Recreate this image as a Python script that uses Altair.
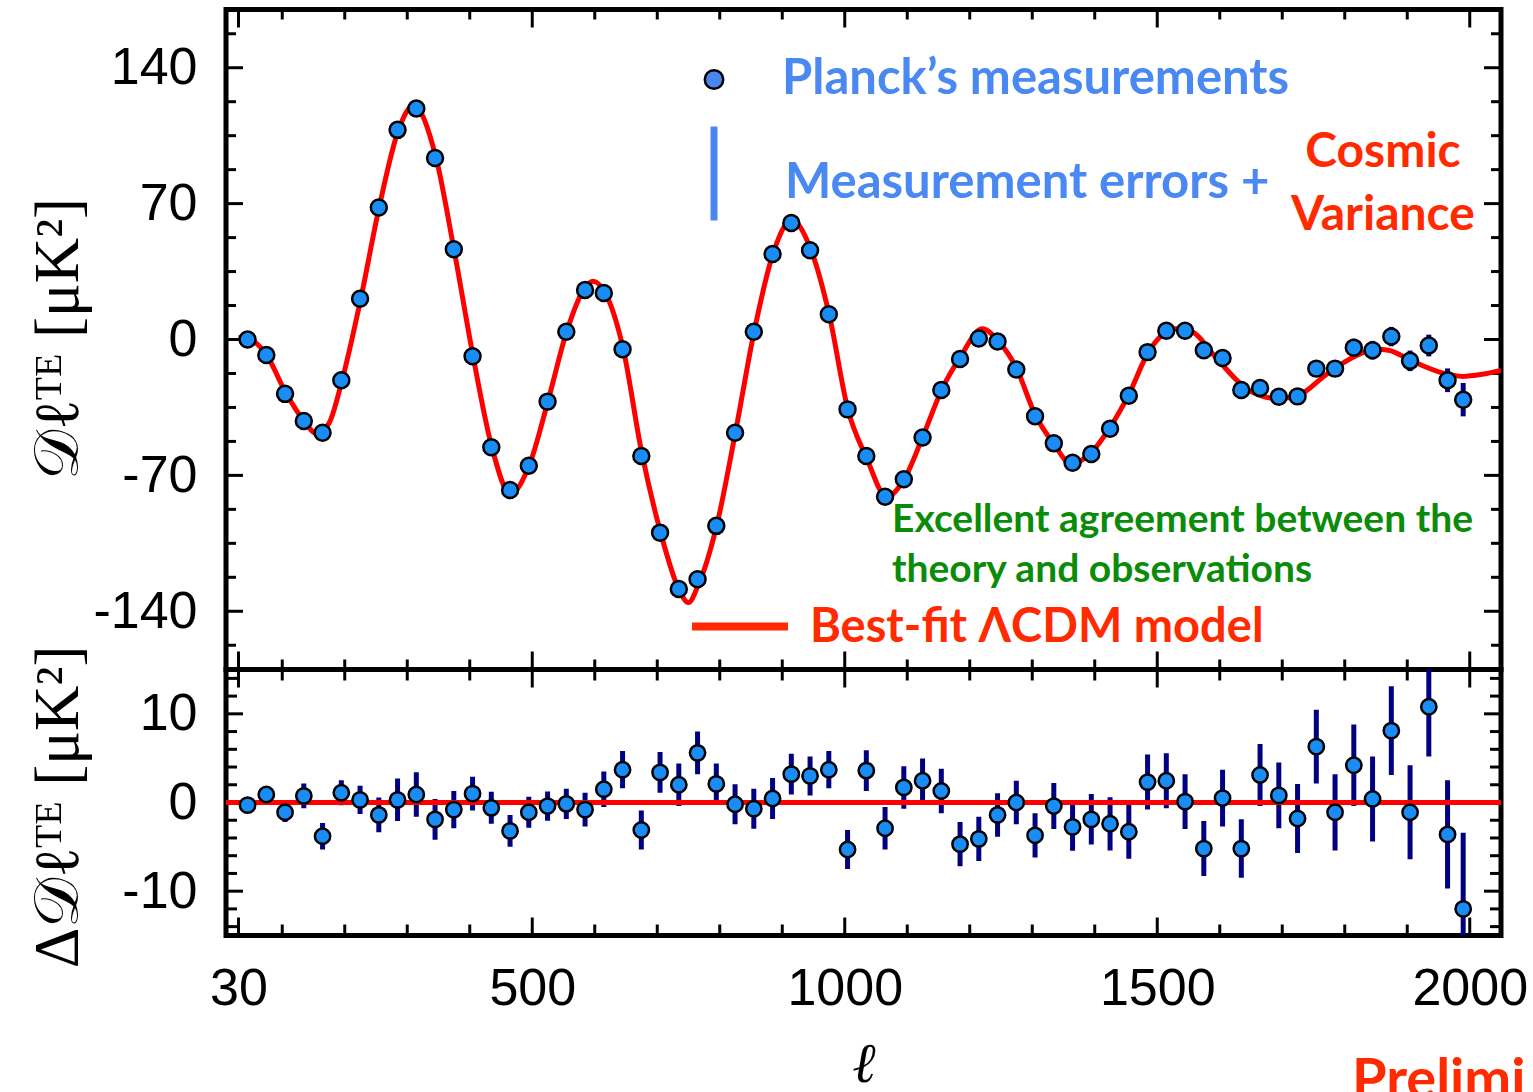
import altair as alt
import pandas as pd

# ---------------- data ----------------
ell = [44.5, 74.5, 104.5, 134.5, 164.5, 194.5, 224.5, 254.5, 284.5, 314.5,
       344.5, 374.5, 404.5, 434.5, 464.5, 494.5, 524.5, 554.5, 584.5, 614.5,
       644.5, 674.5, 704.5, 734.5, 764.5, 794.5, 824.5, 854.5, 884.5, 914.5,
       944.5, 974.5, 1004.5, 1034.5, 1064.5, 1094.5, 1124.5, 1154.5, 1184.5, 1214.5,
       1244.5, 1274.5, 1304.5, 1334.5, 1364.5, 1394.5, 1424.5, 1454.5, 1484.5, 1514.5,
       1544.5, 1574.5, 1604.5, 1634.5, 1664.5, 1694.5, 1724.5, 1754.5, 1784.5, 1814.5,
       1844.5, 1874.5, 1904.5, 1934.5, 1964.5, 1989.5]

dte = [0, -8, -28, -42, -48, -21, 21, 68, 108, 119,
       93.5, 46.5, -8.6, -55.5, -77.5, -65, -32, 4, 25.5, 24,
       -5, -60, -99.5, -128.5, -123.5, -96, -48, 4, 44, 60,
       46, 13, -36, -60, -81, -72, -50.5, -26, -10, 0.5,
       -1, -15.5, -39.5, -53.5, -63.5, -59, -46, -29, -6.5, 4.5,
       4.5, -5.5, -9.5, -26, -25, -29.5, -29.3, -15, -15, -4.2,
       -5.5, 1.5, -11, -3.1, -21, -31]

resid = [-0.3, 0.9, -1.1, 0.75, -3.8, 1.1, 0.3, -1.4, 0.3, 0.9,
         -1.9, -0.8, 1.0, -0.6, -3.2, -1.1, -0.4, -0.15, -0.8, 1.5,
         3.7, -3.1, 3.4, 2.0, 5.6, 2.1, -0.2, -0.7, 0.45, 3.2,
         3.0, 3.7, -5.3, 3.6, -2.9, 1.7, 2.45, 1.3, -4.7, -4.1,
         -1.4, 0.0, -3.7, -0.4, -2.75, -1.9, -2.4, -3.3, 2.3, 2.45,
         0.1, -5.2, 0.5, -5.2, 3.1, 0.8, -1.8, 6.3, -1.1, 4.2,
         0.4, 8.1, -1.1, 10.8, -3.6, -12.0]

err = [0.8, 0.9, 1.1, 1.4, 1.5, 1.4, 1.6, 1.95, 2.4, 2.5,
       2.3, 2.1, 1.9, 1.8, 1.8, 1.75, 1.65, 1.7, 1.9, 2.0,
       2.1, 2.2, 2.3, 2.4, 2.4, 2.3, 2.25, 2.25, 2.3, 2.3,
       2.2, 2.1, 2.2, 2.3, 2.4, 2.4, 2.5, 2.5, 2.5, 2.5,
       2.45, 2.45, 2.5, 2.6, 2.7, 2.85, 3.0, 3.05, 3.1, 3.1,
       3.1, 3.1, 3.2, 3.3, 3.5, 3.7, 3.9, 4.15, 4.3, 4.6,
       4.8, 5.0, 5.3, 5.6, 6.1, 8.6]

# best-fit model curve, read at its turning points and in between
model_ell = [30, 45, 75, 105, 135, 155, 175, 195, 225, 255, 285, 310, 345, 375, 405,
             435, 465, 495, 525, 555, 585, 597, 615, 645, 675, 705, 735, 750, 765, 795,
             825, 855, 885, 915, 945, 975, 1005, 1035, 1067, 1095, 1125, 1155, 1185, 1220,
             1245, 1275, 1305, 1335, 1362, 1395, 1425, 1455, 1485, 1530, 1556, 1593, 1646,
             1694, 1726, 1769, 1814, 1850, 1870, 1905, 1961, 1988, 2020, 2050]
model_val = [1, 0.5, -8, -27, -42, -48.5, -43, -22, 20, 68, 107, 120.5, 95, 46, -8,
             -55, -79.5, -65, -32, 4, 27, 30, 25, -4, -58, -99, -129, -135.5, -127, -96,
             -48, 4, 44, 61.5, 47, 13, -36, -61, -81, -72, -50, -26, -9, 5.5,
             -0.5, -15, -39, -54, -64, -58, -45, -28, -7, 5.5, 3.9, -9, -26,
             -30.5, -28.8, -18.4, -9, -5, -5.5, -10.7, -17.6, -19, -17.9, -15.9]

x_labels = [30, 500, 1000, 1500, 2000]
x_minor = [100, 200, 300, 400, 600, 700, 800, 900, 1100, 1200, 1300, 1400,
           1600, 1700, 1800, 1900]
top_y_labels = [-140, -70, 0, 70, 140]
top_y_minor = [-157.5, -122.5, -105, -87.5, -52.5, -35, -17.5, 17.5, 35, 52.5,
               87.5, 105, 122.5, 157.5]
bot_y_labels = [-10, 0, 10]
bot_y_minor = [-14, -12, -8, -6, -4, -2, 2, 4, 6, 8, 12, 14]

# ---------------- tables ----------------
pts = pd.DataFrame({"ell": ell, "dte": dte, "resid": resid, "err": err})
pts["lo"] = pts["dte"] - pts["err"]
pts["hi"] = pts["dte"] + pts["err"]
pts["rlo"] = pts["resid"] - pts["err"]
pts["rhi"] = pts["resid"] + pts["err"]
model = pd.DataFrame({"ell": model_ell, "dte": model_val})

# ---------------- style ----------------
W, H1, H2 = 1275, 660, 266
PT_FILL = "#1A8CF5"
ERR_COL = "#000080"
CURVE = "#FF0000"
BLUE_TXT = "#4A88F2"
RED_TXT = "#FF2A00"
GREEN_TXT = "#0A8C0A"
TXT_FONT = "Lato"
NUM_FONT = "Liberation Sans"
TEX_FONT = "Liberation Serif"

xscale = alt.Scale(domain=[10, 2050], nice=False, zero=False)
ytop = alt.Scale(domain=[-170, 170], nice=False, zero=False)
ybot = alt.Scale(domain=[-15, 15], nice=False, zero=False)

xaxis_bottom = alt.Axis(values=x_labels, labelExpr="'' + datum.value",
                        labelFont=NUM_FONT, labelFontSize=52, labelColor="black",
                        labelBaseline="alphabetic", labelPadding=69,
                        labelFlush=False, labelOverlap=False, labelBound=False,
                        ticks=False, tickSize=0, domain=False, grid=False,
                        title="ℓ", titleFont=TEX_FONT, titleFontStyle="italic",
                        titleFontWeight="normal", titleFontSize=56, titleColor="black",
                        titleY=146, titleBaseline="alphabetic")


def yaxis(values, title, ty):
    return alt.Axis(values=values, labelExpr="'' + datum.value",
                    labelFont=NUM_FONT, labelFontSize=52, labelColor="black",
                    labelPadding=29, labelOverlap=False, labelFlush=False,
                    ticks=False, tickSize=0, domain=False, grid=False,
                    title=title, titleFont=TEX_FONT, titleFontWeight="normal",
                    titleFontSize=63, titleColor="black", titleAngle=270,
                    titleX=-168, titleY=ty, titleAlign="center", titleBaseline="middle")


TT = "𝒟ℓᵀᴱ  [μK²]"
BT = "Δ𝒟ℓᵀᴱ  [μK²]"
top_yaxis = yaxis(top_y_labels, TT, 329)
bot_yaxis = yaxis(bot_y_labels, BT, 137)


def X(field="ell", axis=None):
    return alt.X(f"{field}:Q", scale=xscale, axis=axis, title="ℓ")


def x_ticks(values, length, height, axis):
    d = pd.DataFrame({"ell": values})
    top = alt.Chart(d).mark_rule(color="black", strokeWidth=3).encode(
        x=X(axis=axis), y=alt.value(0), y2=alt.value(length))
    bot = alt.Chart(d).mark_rule(color="black", strokeWidth=3).encode(
        x=X(axis=axis), y=alt.value(height), y2=alt.value(height - length))
    return [top, bot]


def y_ticks(values, length, yscale, yax, ytitle):
    d = pd.DataFrame({"dte": values})
    enc_y = alt.Y("dte:Q", scale=yscale, axis=yax, title=ytitle)
    left = alt.Chart(d).mark_rule(color="black", strokeWidth=3).encode(
        y=enc_y, x=alt.value(0), x2=alt.value(length))
    right = alt.Chart(d).mark_rule(color="black", strokeWidth=3).encode(
        y=enc_y, x=alt.value(W), x2=alt.value(W - length))
    return [left, right]


def label(text, x, y, size, color, align="left"):
    return alt.Chart(pd.DataFrame({"t": [text]})).mark_text(
        align=align, baseline="alphabetic", font=TXT_FONT, fontWeight="bold",
        fontSize=size, color=color).encode(
        x=alt.value(x), y=alt.value(y), text="t:N")


# ---------------- upper panel ----------------
Ytop = alt.Y("dte:Q", scale=ytop, axis=top_yaxis, title=TT)

top_err = alt.Chart(pts).mark_rule(color=ERR_COL, strokeWidth=5, clip=True).encode(
    x=X(), y=alt.Y("lo:Q", scale=ytop, axis=top_yaxis, title=TT), y2="hi:Q")
top_curve = alt.Chart(model).mark_line(color=CURVE, strokeWidth=5,
                                        interpolate="monotone", clip=True).encode(
    x=X(), y=Ytop)
top_pts = alt.Chart(pts).mark_circle(color=PT_FILL, opacity=1, stroke="black",
                                     strokeWidth=2.5, size=255).encode(x=X(), y=Ytop)

leg_dot = alt.Chart(pd.DataFrame({"t": ["Planck’s measurements"]})).mark_circle(
    color="#4A86F0", opacity=1, stroke="black", strokeWidth=2.5, size=340).encode(
    x=alt.value(488), y=alt.value(70))
leg_bar = alt.Chart(pd.DataFrame({"t": ["Measurement errors"]})).mark_rule(
    color="#4A86F0", strokeWidth=7).encode(
    x=alt.value(488), y=alt.value(117), y2=alt.value(211))
leg_line = alt.Chart(pd.DataFrame({"t": ["Best-fit"]})).mark_rule(
    color=RED_TXT, strokeWidth=8).encode(
    x=alt.value(466), x2=alt.value(562), y=alt.value(617))

top_layers = (
    x_ticks(x_labels, 18, H1, None) + x_ticks(x_minor, 10, H1, None)
    + y_ticks(top_y_labels, 17, ytop, top_yaxis, TT)
    + y_ticks(top_y_minor, 10, ytop, top_yaxis, TT)
    + [top_err, top_curve, top_pts, leg_dot, leg_bar, leg_line,
       label("Planck’s measurements", 556, 84, 49, BLUE_TXT),
       label("Measurement errors +", 559, 188, 49, BLUE_TXT),
       label("Cosmic", 1157, 157, 48, RED_TXT, "center"),
       label("Variance", 1157, 220, 48, RED_TXT, "center"),
       label("Excellent agreement between the", 666, 522, 39, GREEN_TXT),
       label("theory and observations", 666, 572, 39, GREEN_TXT),
       label("Best-fit ΛCDM model", 584, 632, 47, RED_TXT)]
)
top = alt.layer(*top_layers).properties(width=W, height=H1)

# ---------------- lower panel ----------------
bot_err = alt.Chart(pts).mark_rule(color=ERR_COL, strokeWidth=5, clip=True).encode(
    x=X(axis=xaxis_bottom),
    y=alt.Y("rlo:Q", scale=ybot, axis=bot_yaxis, title=BT), y2="rhi:Q")
zero = alt.Chart(pd.DataFrame({"dte": [0]})).mark_rule(color=CURVE, strokeWidth=5).encode(
    y=alt.Y("dte:Q", scale=ybot, axis=bot_yaxis, title=BT))
bot_pts = alt.Chart(pts).mark_circle(color=PT_FILL, opacity=1, stroke="black",
                                     strokeWidth=2.5, size=235).encode(
    x=X(axis=xaxis_bottom),
    y=alt.Y("resid:Q", scale=ybot, axis=bot_yaxis, title=BT))
prelim = alt.Chart(pd.DataFrame({"t": ["Preliminary"]})).mark_text(
    align="left", baseline="alphabetic", font=TXT_FONT, fontWeight="bold",
    fontSize=56, color=RED_TXT, limit=181, ellipsis="\u200b").encode(
    x=alt.value(1126), y=alt.value(428), text="t:N")

bot_layers = (
    x_ticks(x_labels, 18, H2, xaxis_bottom) + x_ticks(x_minor, 11, H2, xaxis_bottom)
    + y_ticks(bot_y_labels, 17, ybot, bot_yaxis, BT)
    + y_ticks(bot_y_minor, 11, ybot, bot_yaxis, BT)
    + [bot_err, zero, bot_pts, prelim]
)
bottom = alt.layer(*bot_layers).properties(width=W, height=H2)

chart = alt.vconcat(top, bottom, spacing=0, bounds="flush").properties(
    padding={"left": 24, "top": 5.5, "right": 0, "bottom": 0},
    background="white",
).configure_view(stroke="black", strokeWidth=5)

chart.save("out.html", embed_options={"renderer": "svg", "actions": False})
